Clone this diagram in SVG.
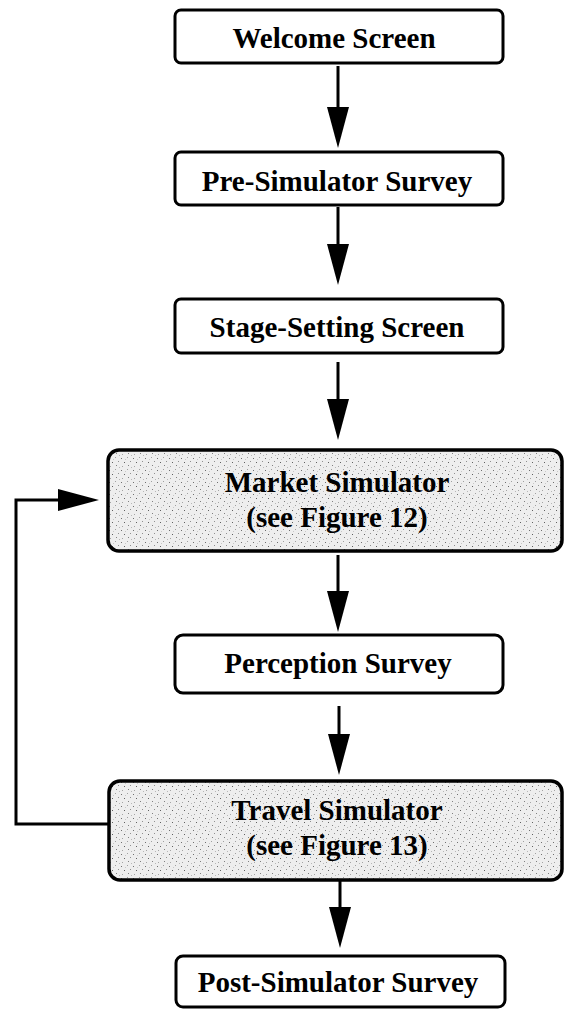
<svg xmlns="http://www.w3.org/2000/svg" width="564" height="1010" viewBox="0 0 564 1010">
<style>
  .box { fill: #ffffff; stroke: #000000; stroke-width: 3; }
  .shaded { fill: url(#stipple); stroke: #000000; stroke-width: 3.5; }
  .lbl { font-family: "Liberation Serif", "DejaVu Serif", serif; font-weight: bold; font-size: 29px; fill: #000000; text-anchor: middle; }
  .conn { fill: none; stroke: #000000; stroke-width: 3; }
</style>
<defs>
  <pattern id="stipple" width="12" height="12" patternUnits="userSpaceOnUse">
    <rect width="12" height="12" fill="#eeeeee"/>
    <rect x="1" y="2" width="1" height="1" fill="#707070"/>
    <rect x="7" y="1" width="1" height="1" fill="#a0a0a0"/>
    <rect x="4" y="6" width="1" height="1" fill="#606060"/>
    <rect x="10" y="5" width="1" height="1" fill="#909090"/>
    <rect x="2" y="10" width="1" height="1" fill="#a5a5a5"/>
    <rect x="8" y="9" width="1" height="1" fill="#808080"/>
    <rect x="5" y="3" width="1" height="1" fill="#c8c8c8"/>
    <rect x="11" y="11" width="1" height="1" fill="#b8b8b8"/>
  </pattern>
  <marker id="head" markerUnits="userSpaceOnUse" markerWidth="42" markerHeight="24" viewBox="0 -12 42 24" refX="2" refY="0" orient="auto">
    <path d="M0,-11 L41,0 L0,11 Z" fill="#000000"/>
  </marker>
</defs>

<g id="connectors">
  <line class="conn" x1="338" y1="66" x2="338" y2="109" marker-end="url(#head)"/>
  <line class="conn" x1="338" y1="207" x2="338" y2="246" marker-end="url(#head)"/>
  <line class="conn" x1="338" y1="362" x2="338" y2="401" marker-end="url(#head)"/>
  <line class="conn" x1="338" y1="555" x2="338" y2="593" marker-end="url(#head)"/>
  <line class="conn" x1="339" y1="706" x2="339" y2="736" marker-end="url(#head)"/>
  <line class="conn" x1="340" y1="881" x2="340" y2="909" marker-end="url(#head)"/>
  <path class="conn" d="M109,824 H16 V500 H60" marker-end="url(#head)"/>
</g>

<g id="welcome">
  <rect class="box" x="175" y="10" width="328" height="53" rx="6"/>
  <text class="lbl" x="334" y="48">Welcome Screen</text>
</g>
<g id="pre-simulator">
  <rect class="box" x="175" y="152" width="328" height="53" rx="6"/>
  <text class="lbl" x="337" y="191">Pre-Simulator Survey</text>
</g>
<g id="stage-setting">
  <rect class="box" x="175" y="299" width="328" height="54" rx="6"/>
  <text class="lbl" x="337" y="337">Stage-Setting Screen</text>
</g>
<g id="market">
  <rect class="shaded" x="108" y="450" width="454" height="101" rx="11"/>
  <text class="lbl" x="337" y="492">Market Simulator</text>
  <text class="lbl" x="337" y="527">(see Figure 12)</text>
</g>
<g id="perception">
  <rect class="box" x="175" y="635" width="328" height="58" rx="8"/>
  <text class="lbl" x="338" y="673">Perception Survey</text>
</g>
<g id="travel">
  <rect class="shaded" x="109" y="781" width="453" height="99" rx="11"/>
  <text class="lbl" x="337" y="820">Travel Simulator</text>
  <text class="lbl" x="337" y="855">(see Figure 13)</text>
</g>
<g id="post-simulator">
  <rect class="box" x="176" y="956" width="329" height="51" rx="7"/>
  <text class="lbl" x="338" y="992">Post-Simulator Survey</text>
</g>
</svg>
